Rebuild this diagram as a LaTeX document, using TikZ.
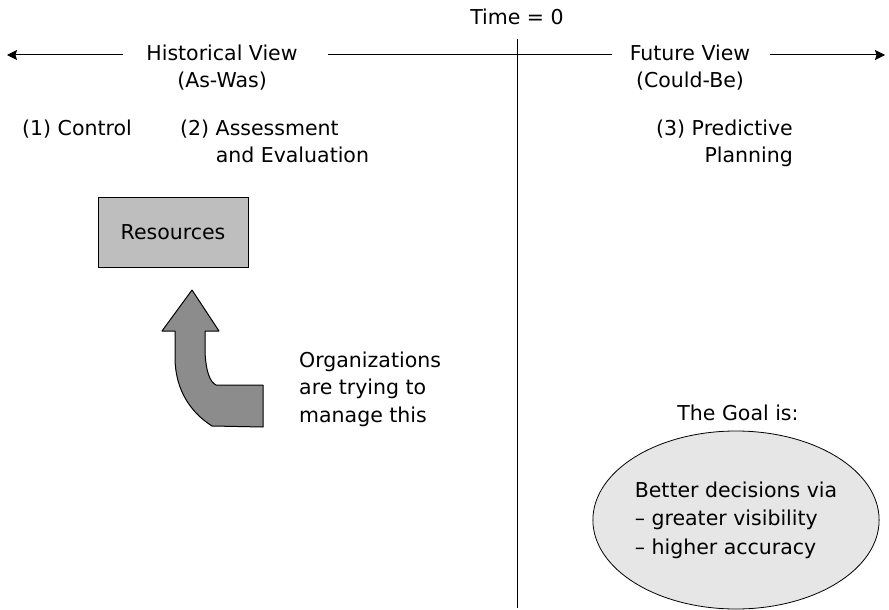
\documentclass[tikz,border=0pt]{standalone}
\usepackage{fontspec}
\setmainfont{DejaVu Sans}
\usetikzlibrary{arrows.meta,positioning,shapes.geometric}
\definecolor{resgray}{HTML}{BEBEBE}
\definecolor{arrowgray}{HTML}{8C8C8C}
\definecolor{goalfill}{HTML}{E6E6E6}
\newcommand{\viewfont}{\fontsize{20.5}{27.5}\selectfont}
\tikzset{
  plaintext/.style={inner sep=0pt,font=\viewfont},
  headtext/.style={plaintext,align=center,anchor=base},
  steptext/.style={plaintext,anchor=base west,align=left},
  resbox/.style={draw=black,line width=1pt,fill=resgray,minimum width=150,minimum height=70,font=\viewfont},
  goalellipse/.style={ellipse,draw=black,line width=0.8pt,fill=goalfill,minimum width=286,minimum height=178,inner sep=0pt,align=left,font=\fontsize{20.5}{28.5}\selectfont},
  timeline/.style={line width=1pt,draw=black},
  timearrow/.style={timeline,-{Stealth[length=10,width=10,inset=1.5]}},
  mgmtarrow/.style={draw=black,line width=1pt,fill=arrowgray,line join=round}
}

\begin{document}
\begin{tikzpicture}[x=1pt,y=-1pt]
  \useasboundingbox (0,0) rectangle (889,610);
  % time axis (base of a two-line node sits on its last line)
  \node[headtext] (time) at (517,25) {Time = 0};
  \node[headtext] (hist) at (222,88) {Historical View\\(As-Was)};
  \node[headtext] (fut) at (690,88) {Future View\\(Could-Be)};
  \coordinate (histtip) at (7,55);
  \coordinate (histend) at (123,55);
  \coordinate (midleft) at (328,55);
  \coordinate (midright) at (612,55);
  \coordinate (futstart) at (770,55);
  \coordinate (futtip) at (885,55);
  \coordinate (nowtop) at (517,39);
  \coordinate (nowbot) at (517,608);
  \draw[timearrow] (histend) -- (histtip);
  \draw[timeline] (midleft) -- (midright);
  \draw[timearrow] (futstart) -- (futtip);
  \draw[timeline] (nowtop) -- (nowbot);
  % the three steps
  \node[steptext] (control) at (22,135) {(1) Control};
  \node[steptext] (assess) at (180,162.5) {(2) Assessment\\\phantom{(2) }and Evaluation};
  \node[plaintext,anchor=base east,align=right] (predict) at (793,162.5) {(3) Predictive\\Planning};
  % past side
  \node[resbox] (res) at (173,232) {Resources};
  \draw[mgmtarrow] (192,290) -- (219,331) -- (205,331) -- (205,352)
    .. controls (206,372) and (210,382) .. (216,385) -- (263,385) -- (263,427)
    -- (212,426) .. controls (190,412) and (176,390) .. (175,360)
    -- (175,331) -- (162,331) -- cycle;
  \node[steptext] (orgs) at (299,422) {Organizations\\are trying to\\manage this};
  % future side
  \node[headtext] (goallabel) at (738,420) {The Goal is:};
  \node[goalellipse] (goal) at (736,520) {Better decisions via\\-- greater visibility\\-- higher accuracy};
\end{tikzpicture}
\end{document}
